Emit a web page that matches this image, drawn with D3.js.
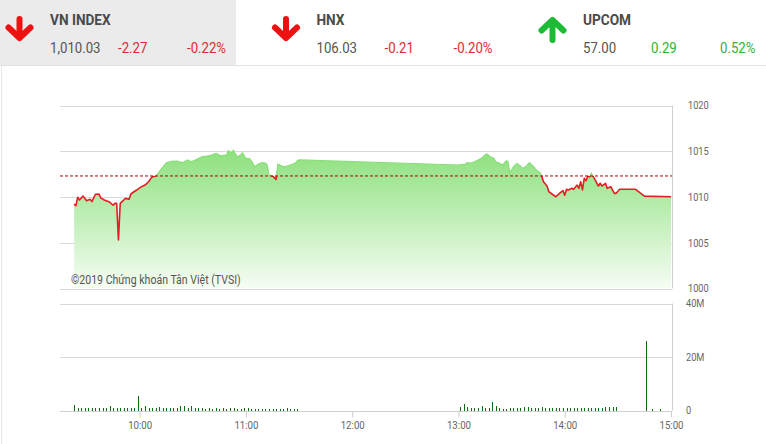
<!DOCTYPE html>
<html>
<head>
<meta charset="utf-8">
<script src="https://cdn.jsdelivr.net/npm/d3@7/dist/d3.min.js"></script>
<style>
  html, body { margin: 0; padding: 0; background: #fff; }
  svg { display: block; font-family: Roboto, "Noto Sans", sans-serif; }
</style>
</head>
<body>
<svg id="chart" width="766" height="444"></svg>
<script>
// ---------------- DATA ----------------
const indexNames = ["VN INDEX", "HNX", "UPCOM"];
const indexValues = ["1,010.03", "106.03", "57.00"];
const indexChanges = ["-2.27", "-0.21", "0.29"];
const indexPercents = ["-0.22%", "-0.20%", "0.52%"];
const indexDirections = ["down", "down", "up"];

const referencePrice = 1012.30;

const priceTimes = [
  "9:23","9:24","9:25","9:26","9:28","9:30","9:32","9:33","9:35","9:37","9:38","9:40","9:43","9:45","9:46","9:47","9:48","9:49","9:50","9:52","9:54","9:55","9:57","9:59",
  "10:01","10:03","10:05","10:07","10:09","10:10","10:12","10:15","10:18","10:21","10:24","10:27","10:29","10:32","10:35","10:39","10:41","10:43","10:46","10:49","10:50","10:52","10:53","10:55","10:57","10:58",
  "11:00","11:02","11:03","11:05","11:07","11:09","11:11","11:12","11:13","11:15","11:17","11:18","11:20","11:22","11:25","11:28","11:29","11:30",
  "13:00","13:04","13:05","13:07","13:09","13:11","13:13","13:15","13:16","13:18","13:20","13:21","13:23","13:25","13:27","13:28","13:29","13:31","13:33","13:35","13:36","13:38","13:40","13:42","13:44","13:46","13:47","13:48","13:50","13:51","13:53","13:55","13:57","13:59",
  "14:00","14:01","14:02","14:04","14:05","14:07","14:08","14:09","14:10","14:11","14:12","14:13","14:14","14:15","14:17","14:19","14:20","14:21","14:23","14:24","14:26","14:28","14:29","14:31","14:40","14:45","15:00"
];
const priceValues = [
  1009.23,1009.05,1009.97,1009.67,1010.10,1009.60,1009.75,1009.50,1010.30,1010.33,1009.90,1009.67,1009.45,1009.10,1009.30,1009.30,1005.30,1009.30,1009.50,1009.85,1009.75,1010.33,1010.60,1010.87,
  1011.13,1011.30,1011.67,1012.20,1012.30,1012.50,1013.00,1013.75,1013.90,1013.93,1013.75,1014.05,1013.86,1014.10,1014.40,1014.50,1014.60,1014.77,1014.50,1014.60,1015.06,1014.84,1015.10,1014.40,1014.60,1014.84,
  1014.20,1014.20,1013.97,1013.30,1013.60,1013.75,1013.70,1013.50,1012.40,1012.30,1011.93,1013.60,1013.40,1013.30,1013.50,1013.70,1013.97,1014.05,
  1013.50,1013.60,1013.75,1013.70,1013.86,1014.05,1014.23,1014.60,1014.70,1014.40,1014.23,1013.86,1013.70,1013.50,1013.97,1013.86,1012.60,1013.30,1013.67,1013.40,1013.10,1013.30,1013.75,1013.40,1012.95,1012.65,1012.30,1011.67,1011.20,1010.60,1010.30,1010.03,1010.40,1010.70,
  1010.20,1010.84,1010.77,1010.95,1010.84,1011.30,1010.95,1011.67,1010.77,1012.04,1011.78,1012.30,1012.20,1012.60,1011.93,1011.20,1011.50,1011.20,1011.50,1010.95,1011.13,1010.40,1010.40,1010.84,1010.84,1010.10,1010.03
];

// Volume (millions of shares), 2-minute bars
const volMorningStart = "9:23";
const volMorning = [
  1.9,0.9,0.9,0.8,0.8,0.8,0.8,0.9,0.7,0.7,1.4,0.9,0.8,0.8,0.8,0.7,0.6,0.7,5.2,
  0.9,1.5,0.8,0.9,0.8,1.2,0.9,0.8,0.6,0.7,0.6,1.6,1.5,0.8,1.4,0.7,0.6,0.6,0.5,0.6,0.5,0.6,0.5,0.7,0.5,0.6,0.9,0.5,0.4,0.6,
  0.7,0.4,0.4,0.5,0.3,0.4,0.4,0.3,0.4,0.5,0.5,0.6,0.4,0.4,0.4
];
const volAfternoonStart = "13:01";
const volAfternoon = [
  1.2,2.1,1.3,0.6,0.7,0.6,1.4,0.7,0.6,2.9,1.5,0.6,0.5,0.5,0.6,0.6,0.7,0.8,1.3,1.0,0.8,0.7,0.9,1.2,0.8,0.7,0.6,0.6,0.7,0.8,
  0.7,0.6,0.6,0.7,0.6,0.8,0.9,0.7,0.6,0.8,0.9,1.0,1.1,1.2,1.2
];
const volLateTimes = ["14:46", "14:49", "14:54"];
const volLate = [25.8, 0.3, 0.2];

const priceTicks = [1000, 1005, 1010, 1015, 1020];
const volTicks = [0, 20, 40];
const volTickLabels = ["0", "20M", "40M"];
const timeTicks = ["10:00", "11:00", "12:00", "13:00", "14:00", "15:00"];
const copyright = "©2019 Chứng khoán Tân Việt (TVSI)";

// ---------------- SETUP ----------------
const parse = d3.timeParse("%H:%M");
const svg = d3.select("#chart");
const SX = 0.88; // condensed look

const plotL = 60, plotR = 672;
const x = d3.scaleTime().domain([parse("9:15"), parse("15:00")]).range([60, 671]);
const y = d3.scaleLinear().domain([1000, 1020]).range([288.5, 105.5]);
const yv = d3.scaleLinear().domain([0, 40]).range([410.5, 303.5]);

const prices = priceTimes.map((t, i) => ({ t: parse(t), v: priceValues[i] }));

// ---------------- HEADER ----------------
svg.append("rect").attr("x", 0).attr("y", 0).attr("width", 236).attr("height", 65).attr("fill", "#ebebeb");
svg.append("line").attr("x1", 0).attr("x2", 766).attr("y1", 65.5).attr("y2", 65.5).attr("stroke", "#e2e2e2");
svg.append("line").attr("x1", 1.5).attr("x2", 1.5).attr("y1", 65.5).attr("y2", 444).attr("stroke", "#e6e6e6");

const red = "#dd2a30", green = "#2db337";
indexNames.forEach((name, i) => {
  const ox = i * 266.5;
  const g = svg.append("g").attr("transform", `translate(${ox},0)`);
  const dir = indexDirections[i];
  const ac = dir === "down" ? "#ee1111" : "#1dbb35";
  const cx = 19.5;
  const arrow = dir === "down"
    ? `M${cx},19 L${cx},37 M${cx - 11},27.5 L${cx},38 L${cx + 11},27.5`
    : `M${cx},40 L${cx},22 M${cx - 11},30.5 L${cx},20 L${cx + 11},30.5`;
  g.append("path").attr("d", arrow).attr("fill", "none").attr("stroke", ac)
    .attr("stroke-width", 6).attr("stroke-linecap", "round").attr("stroke-linejoin", "round");
  const cc = dir === "down" ? red : green;
  const txt = (tx, ty, s, opts) => g.append("text")
    .attr("transform", `translate(${tx},${ty}) scale(${SX},1)`)
    .attr("font-size", opts.size).attr("font-weight", opts.bold ? 700 : 400)
    .attr("fill", opts.color).text(s);
  txt(50, 25, name, { size: 15.5, bold: true, color: "#4a4a4a" });
  txt(50, 53, indexValues[i], { size: 15, color: "#555" });
  txt(118, 53, indexChanges[i], { size: 15, color: cc });
  txt(187, 53, indexPercents[i], { size: 15, color: cc });
});

// ---------------- PRICE CHART ----------------
const grid = svg.append("g");
priceTicks.forEach(v => {
  grid.append("line").attr("x1", plotL).attr("x2", plotR)
    .attr("y1", Math.round(y(v)) + 0.5).attr("y2", Math.round(y(v)) + 0.5)
    .attr("stroke", "#d9d9d9");
});

const defs = svg.append("defs");
const grad = defs.append("linearGradient").attr("id", "areaGrad")
  .attr("gradientUnits", "userSpaceOnUse").attr("x1", 0).attr("x2", 0)
  .attr("y1", y(1015)).attr("y2", y(1000));
grad.append("stop").attr("offset", 0).attr("stop-color", "rgb(142,225,126)");
grad.append("stop").attr("offset", 1).attr("stop-color", "rgb(246,253,244)");

const yRef = y(referencePrice);
defs.append("clipPath").attr("id", "clipAbove").append("rect")
  .attr("x", 0).attr("y", 0).attr("width", 766).attr("height", yRef);
defs.append("clipPath").attr("id", "clipBelow").append("rect")
  .attr("x", 0).attr("y", yRef).attr("width", 766).attr("height", 444 - yRef);

const area = d3.area().x(d => x(d.t)).y0(y(1000)).y1(d => y(d.v));
const line = d3.line().x(d => x(d.t)).y(d => y(d.v));

svg.append("path").datum(prices).attr("d", area).attr("fill", "url(#areaGrad)");
svg.append("path").datum(prices).attr("d", line).attr("fill", "none")
  .attr("stroke", "rgb(138,222,122)").attr("stroke-width", 1.2).attr("clip-path", "url(#clipAbove)");
svg.append("path").datum(prices).attr("d", line).attr("fill", "none")
  .attr("stroke", "#e31e24").attr("stroke-width", 1.6).attr("stroke-linejoin", "round")
  .attr("clip-path", "url(#clipBelow)");

svg.append("line").attr("x1", plotL).attr("x2", plotR).attr("y1", yRef).attr("y2", yRef)
  .attr("stroke", "#b00000").attr("stroke-width", 1).attr("stroke-dasharray", "3,2");

svg.append("line").attr("x1", plotR + 0.5).attr("x2", plotR + 0.5)
  .attr("y1", y(1020)).attr("y2", y(1000)).attr("stroke", "#cfcfcf");

const yAxis = d3.axisRight(y).tickValues(priceTicks).tickSize(0).tickPadding(0).tickFormat(d3.format("d"));
const yAxisG = svg.append("g").attr("transform", `translate(688,0)`).call(yAxis);
yAxisG.select(".domain").remove();
yAxisG.selectAll("text").attr("fill", "#666").attr("font-size", 10.5)
  .attr("font-family", "Roboto, sans-serif").attr("transform", `scale(${SX},1)`);

svg.append("text").attr("transform", `translate(71,284) scale(${SX},1)`)
  .attr("font-size", 12).attr("fill", "#555").text(copyright);

// ---------------- VOLUME CHART ----------------
volTicks.forEach(v => {
  svg.append("line").attr("x1", plotL).attr("x2", plotR)
    .attr("y1", Math.round(yv(v)) + 0.5).attr("y2", Math.round(yv(v)) + 0.5)
    .attr("stroke", v === 0 ? "#cfcfcf" : "#d9d9d9");
});
svg.append("line").attr("x1", plotR + 0.5).attr("x2", plotR + 0.5)
  .attr("y1", yv(40)).attr("y2", yv(0)).attr("stroke", "#cfcfcf");

const vols = [];
const m0 = parse(volMorningStart), a0 = parse(volAfternoonStart);
volMorning.forEach((v, i) => vols.push({ t: d3.timeMinute.offset(m0, i * 2), v }));
volAfternoon.forEach((v, i) => vols.push({ t: d3.timeMinute.offset(a0, i * 2), v }));
volLateTimes.forEach((t, i) => vols.push({ t: parse(t), v: volLate[i] }));

svg.append("g").selectAll("rect").data(vols).join("rect")
  .attr("x", d => Math.round(x(d.t)))
  .attr("width", 1)
  .attr("y", d => Math.floor(yv(d.v)))
  .attr("height", d => Math.round(yv(0)) - Math.floor(yv(d.v)))
  .attr("fill", "#126b14")
  .attr("shape-rendering", "crispEdges");

const vAxis = d3.axisRight(yv).tickValues(volTicks).tickSize(0).tickPadding(0)
  .tickFormat((d, i) => volTickLabels[i]);
const vAxisG = svg.append("g").attr("transform", `translate(686,0)`).call(vAxis);
vAxisG.select(".domain").remove();
vAxisG.selectAll("text").attr("fill", "#666").attr("font-size", 10.5)
  .attr("font-family", "Roboto, sans-serif").attr("transform", `scale(${SX},1)`);

const xAxis = d3.axisBottom(x).tickValues(timeTicks.map(parse)).tickSize(6).tickPadding(4)
  .tickFormat(d3.timeFormat("%H:%M"));
const xAxisG = svg.append("g").attr("transform", `translate(0,${Math.round(yv(0)) + 0.5})`).call(xAxis);
xAxisG.select(".domain").remove();
xAxisG.selectAll("line").attr("stroke", "#cfcfcf");
xAxisG.selectAll("text").attr("fill", "#666").attr("font-size", 11)
  .attr("font-family", "Roboto, sans-serif").attr("transform", `scale(${SX},1)`);
</script>
</body>
</html>
